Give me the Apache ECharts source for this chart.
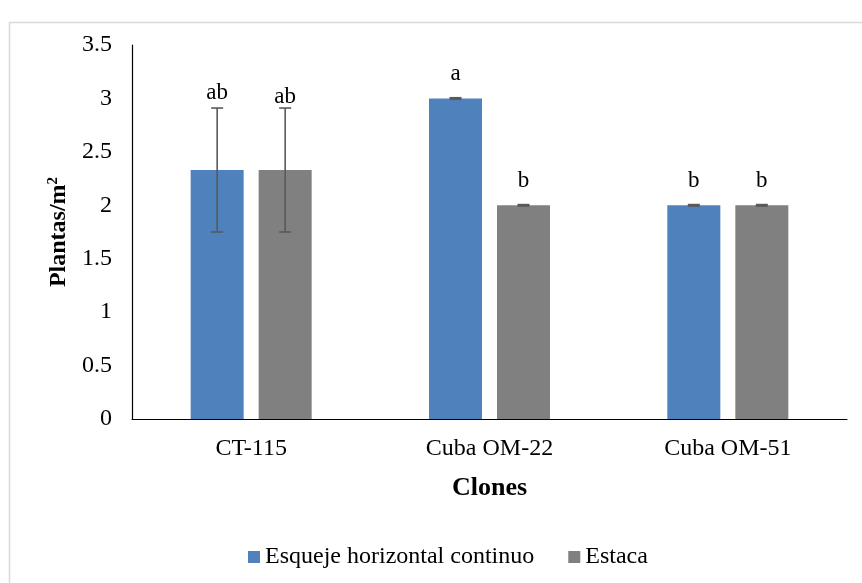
<!DOCTYPE html>
<html>
<head>
<meta charset="utf-8">
<script src="https://cdn.jsdelivr.net/npm/echarts@6/dist/echarts.min.js"></script>
<style>html,body{margin:0;padding:0;background:#fff}#c{width:862px;height:583px}</style>
</head>
<body>
<div id="c"></div>
<script>
var categories = ['CT-115', 'Cuba OM-22', 'Cuba OM-51'];
var seriesNames = ['Esqueje horizontal continuo', 'Estaca'];
var esquejeValues = [2.33, 3.0, 2.0];
var estacaValues = [2.33, 2.0, 2.0];
var esquejeErrors = [0.58, 0.0, 0.0];
var estacaErrors = [0.58, 0.0, 0.0];
var esquejeLetters = ['ab', 'a', 'b'];
var estacaLetters = ['ab', 'b', 'b'];
var yTicks = [0, 0.5, 1, 1.5, 2, 2.5, 3, 3.5];

var FONT = '"Liberation Serif", "Times New Roman", serif';
var BAR_W = 53, BAR_GAP = 15;
var colors = ['#4f81bd', '#808080'];

function errSeries(idx, values, errors, letters) {
  var sign = idx === 0 ? -1 : 1;
  return {
    type: 'custom',
    name: seriesNames[idx] + ' err',
    z: 10,
    silent: true,
    data: values.map(function (v, i) { return [i, v, errors[i]]; }),
    renderItem: function (params, api) {
      var i = api.value(0), v = api.value(1), e = api.value(2);
      var letter = letters[params.dataIndex];
      var c = api.coord([i, v]);
      var x = c[0] + sign * (BAR_W + BAR_GAP) / 2;
      var top = api.coord([i, v + e])[1];
      var bot = api.coord([i, v - e])[1];
      var cap = 6;
      var st = { stroke: '#595959', lineWidth: 1.6 };
      var children = [];
      var off;
      if (e > 0) {
        children.push({ type: 'line', shape: { x1: x, y1: top, x2: x, y2: bot }, style: st });
        children.push({ type: 'line', shape: { x1: x - cap, y1: top, x2: x + cap, y2: top }, style: st });
        children.push({ type: 'line', shape: { x1: x - cap, y1: bot, x2: x + cap, y2: bot }, style: st });
        off = idx === 0 ? 15 : 11;
      } else {
        children.push({ type: 'line', shape: { x1: x - 6, y1: top, x2: x + 6, y2: top }, style: { stroke: '#595959', lineWidth: 3 } });
        off = 24;
      }
      children.push({
        type: 'text',
        style: { text: letter, x: x, y: top - off, align: 'center', verticalAlign: 'middle',
                 font: '23px ' + FONT, fill: '#000' }
      });
      return { type: 'group', children: children };
    }
  };
}

var chart = echarts.init(document.getElementById('c'));
chart.setOption({
  animation: false,
  color: colors,
  graphic: [{
    type: 'rect', shape: { x: 9.5, y: 22.5, width: 900, height: 600 },
    style: { fill: 'none', stroke: '#d9d9d9', lineWidth: 1.5 }, z: -1
  }],
  grid: { left: 132, right: 15, top: 45, bottom: 164 },
  legend: {
    top: 540, left: 243, itemWidth: 12, itemHeight: 12, itemGap: 34,
    icon: 'rect',
    data: seriesNames,
    textStyle: { fontFamily: FONT, fontSize: 24, color: '#000' }
  },
  xAxis: {
    type: 'category', data: categories,
    name: 'Clones', nameLocation: 'middle', nameGap: 56,
    nameTextStyle: { fontFamily: FONT, fontSize: 26, fontWeight: 'bold', color: '#000' },
    axisLine: { lineStyle: { color: '#000', width: 1.2 } },
    axisTick: { show: false },
    axisLabel: { fontFamily: FONT, fontSize: 24, color: '#000', margin: 18 }
  },
  yAxis: {
    type: 'value', min: 0, max: 3.5, interval: 0.5,
    name: 'Plantas/m{sup|2}', nameLocation: 'middle', nameGap: 50,
    nameTextStyle: { fontFamily: FONT, fontSize: 24, fontWeight: 'bold', color: '#000',
      rich: { sup: { fontFamily: FONT, fontSize: 15, fontWeight: 'bold', color: '#000', verticalAlign: 'top', padding: [0, 0, 11, 0] } } },
    axisLine: { show: true, lineStyle: { color: '#000', width: 1.2 } },
    axisTick: { show: false },
    splitLine: { show: false },
    axisLabel: { fontFamily: FONT, fontSize: 24, color: '#000', margin: 20,
      formatter: function (v) { return yTicks.indexOf(v) >= 0 ? String(v) : ''; } }
  },
  series: [
    { type: 'bar', name: seriesNames[0], data: esquejeValues, barWidth: BAR_W, barGap: (BAR_GAP / BAR_W * 100) + '%',
      itemStyle: { color: colors[0] } },
    { type: 'bar', name: seriesNames[1], data: estacaValues, barWidth: BAR_W,
      itemStyle: { color: colors[1] } },
    errSeries(0, esquejeValues, esquejeErrors, esquejeLetters),
    errSeries(1, estacaValues, estacaErrors, estacaLetters)
  ]
});
</script>
</body>
</html>
